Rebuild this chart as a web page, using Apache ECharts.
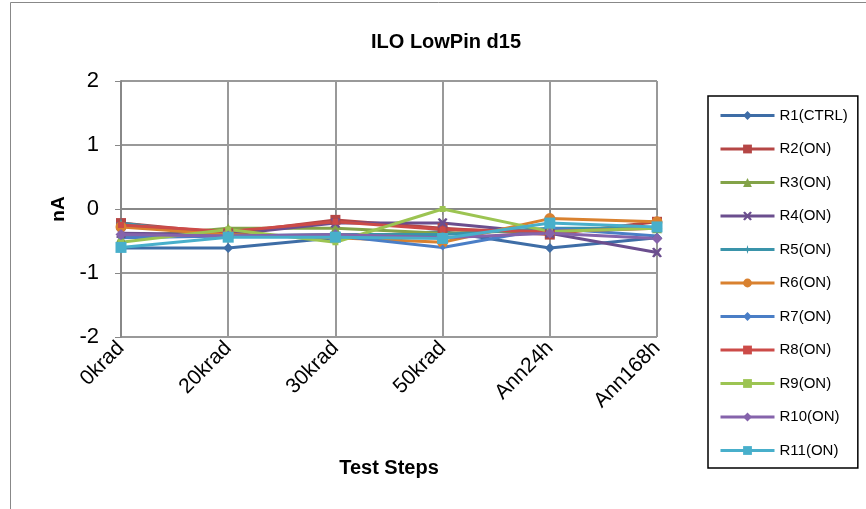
<!DOCTYPE html>
<html><head><meta charset="utf-8">
<script src="https://cdn.jsdelivr.net/npm/echarts@6/dist/echarts.min.js"></script>
<style>html,body{margin:0;padding:0;background:#fff}#c{width:866px;height:509px}</style>
</head><body><div id="c"></div>
<script>
const categories = ['0krad','20krad','30krad','50krad','Ann24h','Ann168h'];
const seriesNames = ['R1(CTRL)','R2(ON)','R3(ON)','R4(ON)','R5(ON)','R6(ON)','R7(ON)','R8(ON)','R9(ON)','R10(ON)','R11(ON)'];
const R1 = [-0.61,-0.61,-0.45,-0.35,-0.61,-0.45];
const R2 = [-0.22,-0.38,-0.17,-0.30,-0.40,-0.20];
const R3 = [-0.45,-0.30,-0.30,-0.38,-0.33,-0.30];
const R4 = [-0.38,-0.40,-0.22,-0.22,-0.38,-0.68];
const R5 = [-0.22,-0.42,-0.40,-0.40,-0.30,-0.30];
const R6 = [-0.28,-0.40,-0.45,-0.52,-0.15,-0.20];
const R7 = [-0.45,-0.42,-0.42,-0.60,-0.30,-0.42];
const R8 = [-0.25,-0.35,-0.20,-0.32,-0.35,-0.30];
const R9 = [-0.52,-0.32,-0.52,0.00,-0.35,-0.30];
const R10 = [-0.40,-0.42,-0.40,-0.45,-0.38,-0.46];
const R11 = [-0.60,-0.44,-0.44,-0.46,-0.22,-0.28];
const yTicks = [-2,-1,0,1,2];

const values = [R1,R2,R3,R4,R5,R6,R7,R8,R9,R10,R11];
const colors = ['#3E6DA6','#B54645','#83A348','#6B4E8E','#3A94AA','#D9812F','#4A7EC6','#CC4B48','#9CC452','#8563AB','#48AFCB'];
const starPath = 'path://M0,-10 L2,-2 L10,0 L2,2 L0,10 L-2,2 L-10,0 L-2,-2 Z';
const xPath = 'path://M-10,-8 L-6,-10 L0,-4 L6,-10 L10,-8 L4,0 L10,8 L6,10 L0,4 L-6,10 L-10,8 L-4,0 Z';
const symbols = ['diamond','rect','triangle',xPath,starPath,'circle','diamond','rect','rect','diamond','rect'];
const sizes = [10,10,10,10,11,11,6,6,6,11,11];

const chart = echarts.init(document.getElementById('c'));
chart.setOption({
  animation:false,
  title:{text:'ILO LowPin d15',left:441,top:27,textAlign:'center',
    textStyle:{fontFamily:'Liberation Sans',fontSize:20,fontWeight:'bold',color:'#000'}},
  graphic:[{type:'rect',shape:{x:10.5,y:2.5,width:870,height:520},style:{fill:'none',stroke:'#888',lineWidth:1},silent:true}],
  legend:{orient:'vertical',left:708,top:96,itemGap:18.5,itemWidth:54,itemHeight:11,
    padding:[12,10,10,11],borderColor:'#000',borderWidth:1.5,
    lineStyle:{width:3},
    textStyle:{fontFamily:'Liberation Sans',fontSize:15,lineHeight:14,color:'#000'},data:seriesNames},
  grid:{left:121,right:209,top:81,bottom:172},
  xAxis:{type:'category',data:categories,boundaryGap:false,
    axisLine:{lineStyle:{color:'#888',width:2}},
    axisTick:{show:true,alignWithLabel:true,length:6,lineStyle:{color:'#888',width:1}},
    splitLine:{show:true,lineStyle:{color:'#999',width:2}},
    axisLabel:{rotate:45,fontFamily:'Liberation Sans',fontSize:21,color:'#000',margin:8,interval:0},
    name:'Test Steps',nameLocation:'middle',nameGap:121,
    nameTextStyle:{fontFamily:'Liberation Sans',fontSize:20,fontWeight:'bold',color:'#000'}},
  yAxis:{type:'value',min:yTicks[0],max:yTicks[yTicks.length-1],interval:1,
    axisLine:{show:true,lineStyle:{color:'#888',width:2}},
    axisTick:{show:true,length:6,lineStyle:{color:'#888'}},
    splitLine:{show:true,lineStyle:{color:'#999',width:2}},
    axisLabel:{fontFamily:'Liberation Sans',fontSize:22,color:'#000',margin:22},
    name:'nA',nameLocation:'middle',nameGap:50,
    nameTextStyle:{fontFamily:'Liberation Sans',fontSize:19,fontWeight:'bold',color:'#000'}},
  series: seriesNames.map((n,i)=>({
    name:n,type:'line',data:values[i],symbol:symbols[i],symbolSize:sizes[i],
    showAllSymbol:true,
    lineStyle:{width:3,color:colors[i]},itemStyle:{color:colors[i],borderWidth:0}
  }))
});
</script></body></html>
